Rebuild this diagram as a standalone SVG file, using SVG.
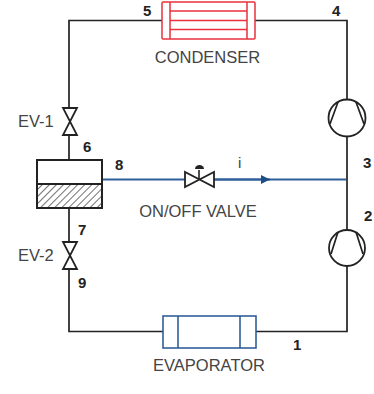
<svg xmlns="http://www.w3.org/2000/svg" width="374" height="394" viewBox="0 0 374 394">
<defs>
<pattern id="hatch" width="5" height="5" patternUnits="userSpaceOnUse" patternTransform="rotate(45)">
<rect width="5" height="5" fill="#fff"/>
<line x1="0" y1="0" x2="0" y2="5" stroke="#444" stroke-width="1.5"/>
</pattern>
<marker id="arrow" markerUnits="userSpaceOnUse" markerWidth="10" markerHeight="10" refX="9" refY="5" orient="auto">
<path d="M0,0.5 L9,5 L0,9.500 Z" fill="#1f4e86"/>
</marker>
</defs>
<style>
text{font-family:"Liberation Sans",Arial,sans-serif;fill:#444}
.lbl{font-size:16.5px}
.num{font-size:15px;font-weight:bold;fill:#222}
.pipe{fill:none;stroke:#222;stroke-width:1.7}
.blue{fill:none;stroke:#2f5f9a;stroke-width:1.9}
.k{fill:#fff;stroke:#222;stroke-width:1.8}
.red{fill:none;stroke:#e8323c;stroke-width:1.5}
.evap{fill:none;stroke:#2f5f9a;stroke-width:1.6}
</style>
<rect width="374" height="394" fill="#fff"/>
<g id="connectors">
<path class="pipe" d="M162,20.500 H69 V108 M69,136 V160 M69,208 V242 M69,270 V331.500 H163 M256,331.500 H347 V266 M347,230 V136.500 M347,99.500 V20.500 H255"/>
<path class="blue" d="M102,179.500 H185 M214,179.500 H346"/>
<path class="blue" d="M214,179.500 H270" marker-end="url(#arrow)"/>
</g>
<g id="condenser">
<rect class="red" x="162" y="2" width="93" height="37" rx="1"/>
<path class="red" d="M170,2 V39 M247,2 V39 M170,11 H247 M170,20.500 H247 M170,29.500 H247"/>
<text class="lbl" x="207.500" y="63" text-anchor="middle">CONDENSER</text>
</g>
<g id="evaporator">
<rect class="evap" x="163" y="316" width="93" height="32"/>
<path class="evap" d="M178,316 V348 M240,316 V348"/>
<text class="lbl" x="209" y="371" text-anchor="middle">EVAPORATOR</text>
</g>
<g id="ev-1">
<path class="k" d="M63,108 H77 L63,135 H77 Z"/>
<text class="lbl" x="18" y="127">EV-1</text>
</g>
<g id="ev-2">
<path class="k" d="M63,242 H77 L63,269 H77 Z"/>
<text class="lbl" x="18" y="261">EV-2</text>
</g>
<g id="separator">
<rect x="37" y="184" width="65" height="24" fill="url(#hatch)"/>
<rect x="37" y="160" width="65" height="48" fill="none" stroke="#222" stroke-width="2"/>
<line x1="37" y1="184" x2="102" y2="184" stroke="#222" stroke-width="1.8"/>
</g>
<g id="on-off-valve">
<path class="k" d="M185,172 V187 L214,172 V187 Z"/>
<path d="M199,179 V170" stroke="#222" stroke-width="1.6"/>
<path d="M195,169 A4.500,4 0 0 1 204,169 Z" fill="#222"/>
<text class="lbl" x="198" y="217" text-anchor="middle">ON/OFF VALVE</text>
</g>
<g id="compressor-high">
<circle class="k" cx="347" cy="118" r="18.500"/>
<path class="pipe" d="M338,102 L330,124 M356,102 L364,124"/>
</g>
<g id="compressor-low">
<circle class="k" cx="347" cy="248" r="18"/>
<path class="pipe" d="M338,232 L331,254 M356,232 L363,254"/>
</g>
<g id="labels">
<text class="num" x="143" y="16">5</text>
<text class="num" x="332" y="16">4</text>
<text class="num" x="83" y="152">6</text>
<text class="num" x="115" y="170">8</text>
<text class="num" x="363" y="168">3</text>
<text class="num" x="364" y="221">2</text>
<text class="num" x="78" y="235">7</text>
<text class="num" x="78" y="288">9</text>
<text class="num" x="293" y="350">1</text>
<text x="238" y="168" style="font-size:15px">i</text>
</g>
</svg>
